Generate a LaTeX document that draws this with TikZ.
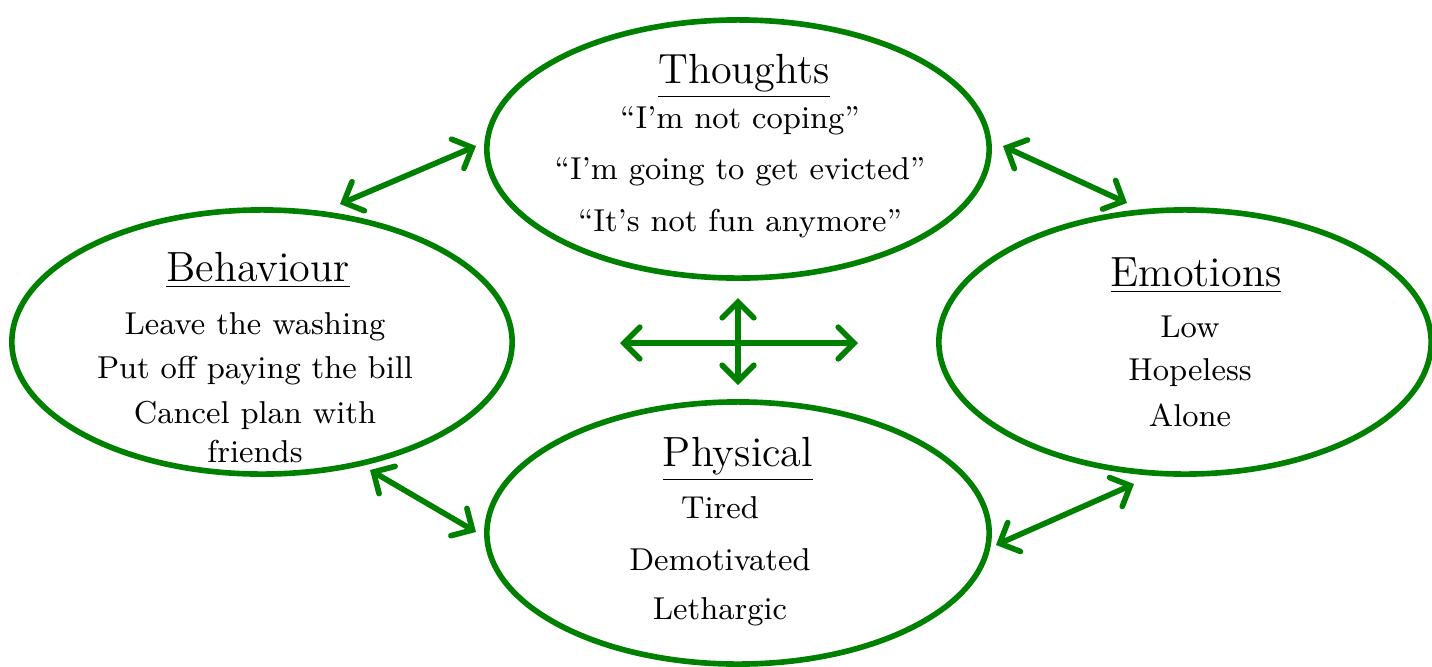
\documentclass[tikz,border=0pt]{standalone}
\usetikzlibrary{arrows.meta,shapes.geometric}
\definecolor{dgreen}{RGB}{0,128,0}
\begin{document}
\begin{tikzpicture}[x=0.01cm,y=-0.01cm,
  oval/.style={draw=dgreen,line width=1.6pt,ellipse,inner sep=0pt},
  ttl/.style={font=\fontsize{12}{14}\selectfont,inner sep=0pt,anchor=base},
  txt/.style={font=\fontsize{9}{11}\selectfont,inner sep=0pt},
  link/.style={draw=dgreen,line width=1.6pt,line cap=round,
    {Straight Barb[length=4.5pt,width=9pt,line cap=round]}-{Straight Barb[length=4.5pt,width=9pt,line cap=round]}}]
\useasboundingbox (0,0) rectangle (1432,666);
% ellipses
\node[oval,minimum width=5.02cm,minimum height=2.58cm] (th) at (738,149) {};
\node[oval,minimum width=5.00cm,minimum height=2.64cm] (be) at (262,342) {};
\node[oval,minimum width=4.92cm,minimum height=2.64cm] (em) at (1185,342) {};
\node[oval,minimum width=5.02cm,minimum height=2.62cm] (ph) at (738,533) {};
% Thoughts
\node[ttl] (tht) at (744,83) {\underline{Thoughts}};
\node[txt] (th1) at (740,121) {``I'm not coping''};
\node[txt] (th2) at (740,172) {``I'm going to get evicted''};
\node[txt] (th3) at (740,224) {``It's not fun anymore''};
% Behaviour
\node[ttl] (bet) at (258,281) {\underline{Behaviour}};
\node[txt] (be1) at (255,327) {Leave the washing};
\node[txt] (be2) at (255,371) {Put off paying the bill};
\node[txt] (be3) at (255,415) {Cancel plan with};
\node[txt] (be4) at (255,452) {friends};
% Emotions
\node[ttl] (emt) at (1196,286) {\underline{Emotions}};
\node[txt] (em1) at (1190,327) {Low};
\node[txt] (em2) at (1190,373) {Hopeless};
\node[txt] (em3) at (1190,415) {Alone};
% Physical
\node[ttl] (pht) at (738,466) {\underline{Physical}};
\node[txt] (ph1) at (720,508) {Tired};
\node[txt] (ph2) at (720,560) {Demotivated};
\node[txt] (ph3) at (720,612) {Lethargic};
% arrow ends
\coordinate (a1) at (340,204); \coordinate (a2) at (476,146);
\coordinate (b1) at (1003,146); \coordinate (b2) at (1127,203);
\coordinate (c1) at (370,470); \coordinate (c2) at (476,532);
\coordinate (d1) at (996,545); \coordinate (d2) at (1134,484);
\coordinate (h1) at (620,343); \coordinate (h2) at (858,343);
\coordinate (v1) at (738,298); \coordinate (v2) at (738,385);
\draw[link] (a1) -- (a2);
\draw[link] (b1) -- (b2);
\draw[link] (c1) -- (c2);
\draw[link] (d1) -- (d2);
\draw[link] (h1) -- (h2);
\draw[link] (v1) -- (v2);
\end{tikzpicture}
\end{document}
